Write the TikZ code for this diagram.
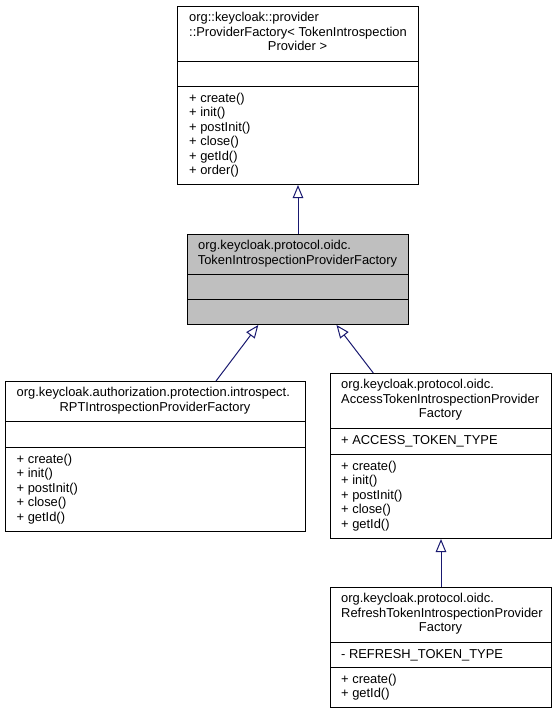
\documentclass[tikz,border=0pt]{standalone}
\usepackage{fontspec}
\setmainfont{Liberation Sans}
\usetikzlibrary{arrows.meta,calc}
\definecolor{edgeblue}{HTML}{191970}
\definecolor{boxgray}{HTML}{BFBFBF}
\begin{document}
\begin{tikzpicture}[x=1pt,y=-1pt,
  classbox/.style={draw=black, line width=1pt, inner sep=0pt, anchor=north west, fill=white},
  txt/.style={inner sep=0pt, font=\fontsize{12.9}{14.5}\selectfont, text height=9.3pt, text depth=2.7pt, yshift=-1.6pt},
  lft/.style={txt, anchor=west},
  ctr/.style={txt, anchor=center},
  sepline/.style={draw=black, line width=1pt},
  inh/.style={draw=edgeblue, line width=1pt, -{Triangle[open, length=13pt, width=10.5pt]}}]
\fill[white] (0,0) rectangle (557,713);
\useasboundingbox (0,0) rectangle (557,713);

% ---- base class
\node[classbox, minimum width=241pt, minimum height=178pt] (base) at (177,6) {};
\draw[sepline] (base.west |- 0,61) -- (base.east |- 0,61);
\draw[sepline] (base.west |- 0,86) -- (base.east |- 0,86);
\node[lft] (b1) at (189,17) {org::keycloak::provider};
\node[lft] (b2) at (189,31.5) {::ProviderFactory< TokenIntrospection};
\node[ctr] (b3) at (297.5,46) {Provider >};
\node[lft] (bm1) at (189,97.5) {+ create()};
\node[lft] (bm2) at (189,112) {+ init()};
\node[lft] (bm3) at (189,126.5) {+ postInit()};
\node[lft] (bm4) at (189,141) {+ close()};
\node[lft] (bm5) at (189,155.5) {+ getId()};
\node[lft] (bm6) at (189,170) {+ order()};

% ---- TokenIntrospectionProviderFactory (highlighted)
\node[classbox, fill=boxgray, minimum width=221pt, minimum height=90pt] (tipf) at (187,234) {};
\draw[sepline] (tipf.west |- 0,274) -- (tipf.east |- 0,274);
\draw[sepline] (tipf.west |- 0,299) -- (tipf.east |- 0,299);
\node[lft] (t1) at (198,245) {org.keycloak.protocol.oidc.};
\node[ctr] (t2) at (297.5,259.5) {TokenIntrospectionProviderFactory};

% ---- RPT
\node[classbox, minimum width=300pt, minimum height=150pt] (rpt) at (5,381) {};
\draw[sepline] (rpt.west |- 0,421) -- (rpt.east |- 0,421);
\draw[sepline] (rpt.west |- 0,447) -- (rpt.east |- 0,447);
\node[lft] (r1) at (16.5,392) {org.keycloak.authorization.protection.introspect.};
\node[ctr] (r2) at (155,406.5) {RPTIntrospectionProviderFactory};
\node[lft] (rm1) at (16.5,458.5) {+ create()};
\node[lft] (rm2) at (16.5,473) {+ init()};
\node[lft] (rm3) at (16.5,487.5) {+ postInit()};
\node[lft] (rm4) at (16.5,502) {+ close()};
\node[lft] (rm5) at (16.5,516.5) {+ getId()};

% ---- AccessTokenIntrospectionProviderFactory
\node[classbox, minimum width=221pt, minimum height=165pt] (acc) at (330,373) {};
\draw[sepline] (acc.west |- 0,428) -- (acc.east |- 0,428);
\draw[sepline] (acc.west |- 0,454) -- (acc.east |- 0,454);
\node[lft] (a1) at (341,384) {org.keycloak.protocol.oidc.};
\node[lft] (a2) at (341,398.5) {AccessTokenIntrospectionProvider};
\node[ctr] (a3) at (440.5,413) {Factory};
\node[lft] (aa1) at (341,440) {+ ACCESS\_TOKEN\_TYPE};
\node[lft] (am1) at (341,465.5) {+ create()};
\node[lft] (am2) at (341,480) {+ init()};
\node[lft] (am3) at (341,494.5) {+ postInit()};
\node[lft] (am4) at (341,509) {+ close()};
\node[lft] (am5) at (341,523.5) {+ getId()};

% ---- RefreshTokenIntrospectionProviderFactory
\node[classbox, minimum width=221pt, minimum height=120pt] (ref) at (330,587) {};
\draw[sepline] (ref.west |- 0,642) -- (ref.east |- 0,642);
\draw[sepline] (ref.west |- 0,667) -- (ref.east |- 0,667);
\node[lft] (f1) at (341,598) {org.keycloak.protocol.oidc.};
\node[lft] (f2) at (341,612.5) {RefreshTokenIntrospectionProvider};
\node[ctr] (f3) at (440.5,627) {Factory};
\node[lft] (fa1) at (341,654) {- REFRESH\_TOKEN\_TYPE};
\node[lft] (fm1) at (341,678.5) {+ create()};
\node[lft] (fm2) at (341,693) {+ getId()};

% ---- inheritance edges
\draw[inh] (tipf.north) -- (base.south);
\draw[inh] ($(rpt.north west)+(211,0)$) -- ($(tipf.south west)+(71.3,0)$);
\draw[inh] ($(acc.north west)+(43.3,0)$) -- ($(tipf.south west)+(149.5,0)$);
\draw[inh] (ref.north) -- (acc.south);
\end{tikzpicture}
\end{document}
